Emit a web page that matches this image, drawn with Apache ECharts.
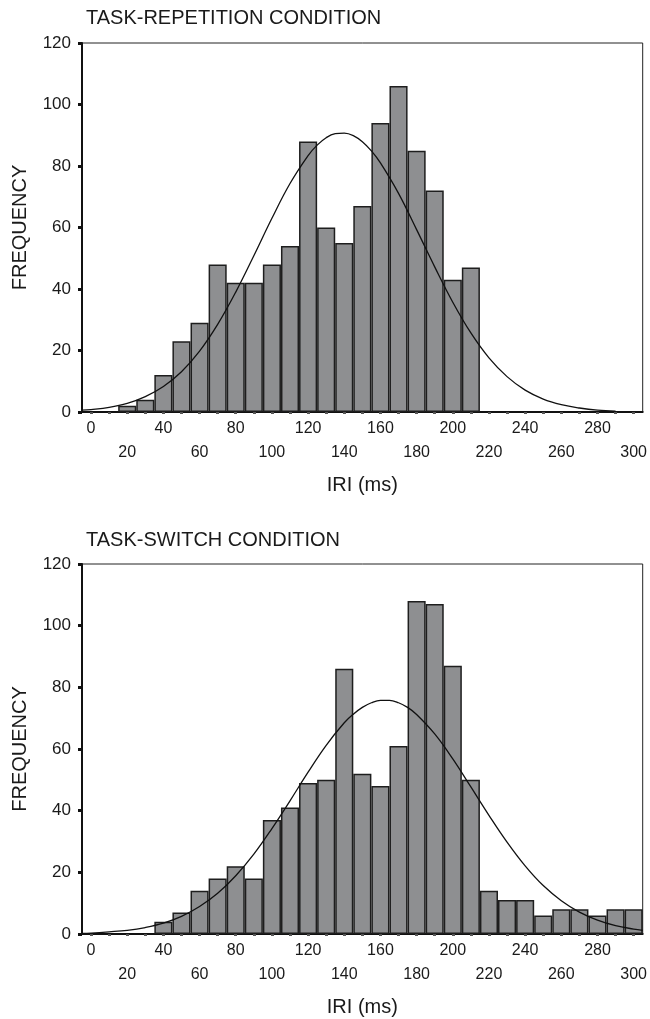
<!DOCTYPE html>
<html>
<head>
<meta charset="utf-8">
<script src="https://cdn.jsdelivr.net/npm/echarts@6/dist/echarts.min.js"></script>
<style>
  html, body { margin: 0; padding: 0; background: #fff; }
  #chart { width: 650px; height: 1019px; }
</style>
</head>
<body>
<div id="chart"></div>
<script>
// IRI bins (ms), one category per 10-ms bin
const iriBins = [0, 10, 20, 30, 40, 50, 60, 70, 80, 90, 100, 110, 120, 130, 140, 150,
                 160, 170, 180, 190, 200, 210, 220, 230, 240, 250, 260, 270, 280, 290, 300];

// Task-repetition condition histogram
const repBins = [20, 30, 40, 50, 60, 70, 80, 90, 100, 110, 120, 130, 140, 150, 160, 170, 180, 190, 200, 210];
const repFreq = [2, 4, 12, 23, 29, 48, 42, 42, 48, 54, 88, 60, 55, 67, 94, 106, 85, 72, 43, 47];

// Task-switch condition histogram
const swBins = [40, 50, 60, 70, 80, 90, 100, 110, 120, 130, 140, 150, 160, 170, 180, 190, 200,
                210, 220, 230, 240, 250, 260, 270, 280, 290, 300];
const swFreq = [4, 7, 14, 18, 22, 18, 37, 41, 49, 50, 86, 52, 48, 61, 108, 107, 87,
                50, 14, 11, 11, 6, 8, 8, 6, 8, 8];

// Normal-curve overlays (IRI ms, frequency)
const repCurveX = [-5, 0, 10, 20, 30, 40, 50, 60, 70, 80, 90, 100, 110, 120, 125, 130, 135, 140, 145, 150, 155,
                   160, 170, 180, 190, 200, 210, 220, 230, 240, 250, 260, 270, 280, 290];
const repCurveY = [0.6, 0.8, 1.5, 2.8, 5.0, 8.3, 13.1, 19.8, 28.5, 39.0, 50.8, 63.0, 74.3, 83.4, 86.8, 89.2, 90.5, 90.7, 89.9, 87.9, 84.9,
                   81.0, 71.1, 59.3, 47.2, 35.7, 25.7, 17.6, 11.5, 7.1, 4.2, 2.4, 1.3, 0.6, 0.3];
const swCurveX = [-5, 0, 10, 20, 30, 40, 50, 60, 70, 80, 90, 100, 110, 120, 130, 140, 145, 150, 155,
                  160, 165, 170, 175, 180, 190, 200, 210, 220, 230, 240, 250, 260, 270, 280, 290, 300, 305];
const swCurveY = [0.2, 0.3, 0.7, 1.2, 2.1, 3.5, 5.7, 8.9, 13.2, 18.9, 25.9, 34.2, 43.2, 52.5, 61.2, 68.5, 71.3, 73.5, 75.0,
                  75.8, 75.8, 75.0, 73.5, 71.2, 64.9, 56.8, 47.7, 38.5, 29.8, 22.1, 15.7, 10.8, 7.1, 4.5, 2.7, 1.6, 1.2];

// Frequency axis ticks
const freqMin = 0, freqMax = 120, freqStep = 20;

const FONT = '"Liberation Sans", Arial, Helvetica, sans-serif';
const INK = '#1a1a1a';

function binSeries(bins, freq) {
  return iriBins.map(b => {
    const k = bins.indexOf(b);
    return k >= 0 ? freq[k] : null;
  });
}

function pairs(xs, ys) {
  return xs.map((x, i) => [x, ys[i]]);
}

const grids = [
  { left: 82, top: 43, width: 561, height: 369 },
  { left: 82, top: 564, width: 561, height: 370 }
];

function catAxis(gi) {
  return {
    type: 'category', gridIndex: gi, data: iriBins.map(String), boundaryGap: true,
    name: 'IRI (ms)', nameLocation: 'middle', nameGap: 63,
    nameTextStyle: { fontFamily: FONT, fontSize: 20, color: INK },
    axisLine: { show: true, onZero: false, lineStyle: { color: '#111', width: 2 } },
    axisTick: { show: true, alignWithLabel: true, interval: 0, length: 2, lineStyle: { color: '#555', width: 3 } },
    axisLabel: {
      interval: 1, margin: 5, fontFamily: FONT, fontSize: 16, color: INK, lineHeight: 24,
      hideOverlap: false,
      formatter: (v, i) => (i % 4 === 0 ? v : '\n' + v)
    },
    splitLine: { show: false }
  };
}

function valXAxis(gi) {
  return { type: 'value', gridIndex: gi, min: -5, max: 305, show: false };
}

function freqAxis(gi) {
  return {
    type: 'value', gridIndex: gi, min: freqMin, max: freqMax, interval: freqStep,
    name: 'FREQUENCY', nameLocation: 'middle', nameGap: 52, nameRotate: 90,
    nameTextStyle: { fontFamily: FONT, fontSize: 20, color: INK },
    axisLine: { show: true, onZero: false, lineStyle: { color: '#111', width: 2 } },
    axisTick: { show: true, length: 4, lineStyle: { color: '#111', width: 3 } },
    axisLabel: { margin: 11, fontFamily: FONT, fontSize: 17, color: INK },
    splitLine: { show: false }
  };
}

function barSeries(xi, yi, data) {
  return {
    type: 'bar', xAxisIndex: xi, yAxisIndex: yi, data: data,
    barCategoryGap: 0, barGap: 0,
    itemStyle: { color: '#8e8f91', borderColor: '#1e1e1e', borderWidth: 1.5 },
    silent: true, z: 2
  };
}

function curveSeries(xi, yi, data) {
  return {
    type: 'line', xAxisIndex: xi, yAxisIndex: yi, data: data,
    smooth: 0.4, symbol: 'none', clip: true,
    lineStyle: { color: '#111', width: 1.3 },
    silent: true, z: 3
  };
}

const chart = echarts.init(document.getElementById('chart'), null, { renderer: 'canvas' });
chart.setOption({
  animation: false,
  backgroundColor: '#fff',
  title: [
    { text: 'TASK-REPETITION CONDITION', left: 86, top: 8, padding: 0,
      textStyle: { fontFamily: FONT, fontSize: 20, fontWeight: 'normal', color: INK } },
    { text: 'TASK-SWITCH CONDITION', left: 86, top: 530, padding: 0,
      textStyle: { fontFamily: FONT, fontSize: 20, fontWeight: 'normal', color: INK } }
  ],
  grid: grids.map(g => Object.assign({ show: true, borderColor: '#222', borderWidth: 1, backgroundColor: 'transparent' }, g)),
  xAxis: [catAxis(0), valXAxis(0), catAxis(1), valXAxis(1)],
  yAxis: [freqAxis(0), freqAxis(1)],
  series: [
    barSeries(0, 0, binSeries(repBins, repFreq)),
    curveSeries(1, 0, pairs(repCurveX, repCurveY)),
    barSeries(2, 1, binSeries(swBins, swFreq)),
    curveSeries(3, 1, pairs(swCurveX, swCurveY))
  ]
});
</script>
</body>
</html>
